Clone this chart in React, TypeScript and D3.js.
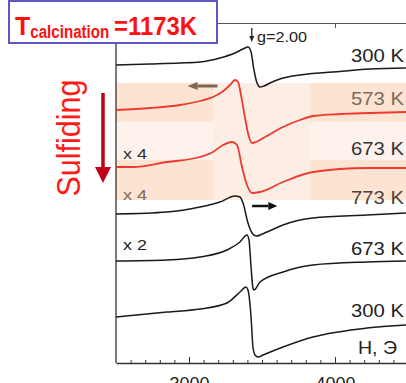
import { useEffect, useRef } from "react";
import * as d3 from "d3";

// EPR spectra: [H (Oe), signal (arb. units, stacked)]
const spec300top: [number, number][] = [
  [2500, 298], [2733, 299], [2938, 300], [3075, 301], [3212, 305], [3315, 310],
  [3370, 314], [3404, 316], [3425, 311], [3445, 293], [3466, 280], [3486, 276],
  [3514, 277], [3555, 280], [3623, 284], [3760, 288], [3986, 291], [4240, 294], [4486, 295],
];
const spec573: [number, number][] = [
  [2500, 253], [2733, 255], [2938, 258], [3075, 262], [3164, 266], [3226, 271],
  [3281, 278], [3315, 283], [3336, 281], [3356, 268], [3384, 245], [3411, 226],
  [3432, 220], [3459, 221], [3521, 226], [3644, 236], [3760, 243], [3849, 247],
  [4034, 249], [4240, 250], [4486, 251],
];
const spec673red: [number, number][] = [
  [2500, 196], [2616, 196], [2849, 201], [3075, 206], [3164, 211], [3233, 218],
  [3295, 221], [3329, 218], [3363, 196], [3397, 178], [3432, 170], [3486, 171],
  [3644, 181], [3849, 191], [4219, 195], [4486, 195],
];
const spec773: [number, number][] = [
  [2500, 149], [2849, 151], [3075, 156], [3212, 161], [3315, 167], [3349, 166],
  [3370, 160], [3404, 140], [3432, 130], [3459, 127], [3534, 131], [3644, 138],
  [3849, 145], [4219, 148], [4486, 150],
];
const spec673: [number, number][] = [
  [2500, 102], [2849, 103], [3075, 106], [3260, 113], [3349, 121], [3397, 128],
  [3411, 123], [3425, 96], [3438, 75], [3445, 73], [3486, 81], [3644, 91],
  [3849, 98], [4219, 101], [4486, 102],
];
const spec300: [number, number][] = [
  [2500, 46], [2849, 51], [3075, 54], [3260, 60], [3349, 71], [3390, 76],
  [3404, 73], [3425, 46], [3438, 16], [3452, 8], [3473, 6], [3507, 8],
  [3644, 16], [3849, 26], [4219, 35], [4486, 38],
];

const spectra = [
  { data: spec300top, red: false },
  { data: spec573, red: true },
  { data: spec673red, red: true },
  { data: spec773, red: false },
  { data: spec673, red: false },
  { data: spec300, red: false },
];

const tempLabels = [
  { text: "300 K", v: 301, c: "#222" },
  { text: "573 K", v: 258, c: "#7b6a60" },
  { text: "673 K", v: 208, c: "#333" },
  { text: "773 K", v: 159, c: "#4e4038" },
  { text: "673 K", v: 108, c: "#222" },
  { text: "300 K", v: 46, c: "#222" },
];
const gainLabels = [
  { text: "x 4", v: 204, c: "#333" },
  { text: "x 4", v: 163, c: "#7b6a5e" },
  { text: "x 2", v: 113, c: "#222" },
];

const bandRows = [
  { top: 280, bottom: 241, dark: true },
  { top: 241, bottom: 203, dark: false },
  { top: 203, bottom: 163, dark: true },
];
const bandCols = [
  { from: 2500, to: 3165, side: true },
  { from: 3165, to: 3830, side: false },
  { from: 3830, to: 4500, side: true },
];

const majorTicks = [3000, 4000];
const minorTicks = d3.range(2600, 4500, 100);

const W = 406;
const H = 383;

const App = () => {
  const svgRef = useRef<SVGSVGElement>(null);

  useEffect(() => {
    const svg = d3.select(svgRef.current);
    svg.selectAll("*").remove();

    const x = d3.scaleLinear().domain([2500, 4500]).range([116, 408]);
    const y = d3.scaleLinear().domain([0, 340]).range([363, 23]);
    const font = "Arial, 'Liberation Sans', sans-serif";

    // shaded bands
    bandRows.forEach((r) => {
      bandCols.forEach((c) => {
        svg
          .append("rect")
          .attr("x", x(c.from))
          .attr("y", y(r.top))
          .attr("width", x(c.to) - x(c.from))
          .attr("height", y(r.bottom) - y(r.top))
          .attr("fill", c.side ? (r.dark ? "#fde3d1" : "#fef3ec") : "#fdeee5");
      });
    });

    // axes
    const gAx = svg.append("g").attr("font-family", font);
    gAx.append("line").attr("x1", 116).attr("x2", 116).attr("y1", 23).attr("y2", 363)
      .attr("stroke", "#333").attr("stroke-width", 1.3);

    const bottom = gAx.append("g").attr("transform", "translate(0,363)");
    bottom.call(d3.axisBottom(x).tickValues(minorTicks).tickSize(-3).tickSizeOuter(0).tickFormat(() => ""));
    bottom.call((g) => g.select(".domain").remove());
    const bottomMajor = gAx.append("g").attr("transform", "translate(0,363)");
    bottomMajor.call(
      d3.axisBottom(x).tickValues(majorTicks).tickSizeInner(-6).tickSizeOuter(0).tickPadding(14).tickFormat(d3.format("d"))
    );
    gAx.selectAll(".domain").attr("stroke", "#333").attr("stroke-width", 1.3);
    gAx.selectAll(".tick line").attr("stroke", "#333").attr("stroke-width", 1);
    bottomMajor.selectAll(".tick text").attr("font-size", 18).attr("fill", "#222").attr("font-family", font);

    const top = gAx.append("g").attr("transform", "translate(0,23)");
    top.call(d3.axisTop(x).tickValues(majorTicks).tickSizeInner(-5).tickSizeOuter(0).tickFormat(() => ""));
    top.select(".domain").attr("stroke", "#555").attr("stroke-width", 1.2);
    top.selectAll(".tick line").attr("stroke", "#555");

    // spectra
    const line = d3
      .line<[number, number]>()
      .x((d) => x(d[0]))
      .y((d) => y(d[1]))
      .curve(d3.curveMonotoneX);

    svg
      .selectAll(".spec")
      .data(spectra)
      .join("path")
      .attr("class", "spec")
      .attr("d", (d) => line(d.data))
      .attr("fill", "none")
      .attr("stroke", (d) => (d.red ? "#ee3a2e" : "#1a1a1a"))
      .attr("stroke-width", (d) => (d.red ? 1.8 : 1.5));

    // labels
    tempLabels.forEach((l) => {
      svg.append("text").attr("x", 404).attr("y", y(l.v)).attr("text-anchor", "end")
        .attr("font-family", font).attr("font-size", 18).attr("fill", l.c)
        .attr("textLength", 53).attr("lengthAdjust", "spacingAndGlyphs").text(l.text);
    });
    gainLabels.forEach((l) => {
      svg.append("text").attr("x", 123).attr("y", y(l.v))
        .attr("font-family", font).attr("font-size", 15).attr("fill", l.c)
        .attr("textLength", 24).attr("lengthAdjust", "spacingAndGlyphs").text(l.text);
    });
    svg.append("text").attr("x", 397).attr("y", 354).attr("text-anchor", "end")
      .attr("font-family", font).attr("font-size", 18).attr("fill", "#222")
      .attr("textLength", 39).attr("lengthAdjust", "spacingAndGlyphs").text("H, Э");

    // arrows
    const arrow = (x1: number, y1: number, x2: number, y2: number, color: string, w: number, hl: number, hw: number) => {
      const ang = Math.atan2(y2 - y1, x2 - x1);
      const bx = x2 - hl * Math.cos(ang);
      const by = y2 - hl * Math.sin(ang);
      svg.append("line").attr("x1", x1).attr("y1", y1).attr("x2", bx).attr("y2", by)
        .attr("stroke", color).attr("stroke-width", w);
      const px = -Math.sin(ang) * hw;
      const py = Math.cos(ang) * hw;
      svg.append("path")
        .attr("d", `M${x2},${y2}L${bx + px},${by + py}L${bx - px},${by - py}Z`)
        .attr("fill", color);
    };
    arrow(x(3195), 86, x(2990), 86, "#7d6650", 3, 10, 4);
    arrow(x(3432), 206, x(3605), 206, "#111", 2.5, 9, 4);
    arrow(x(3430), 28, x(3430), 42, "#222", 1.3, 6, 2.5);
    svg.append("text").attr("x", 257).attr("y", 42).attr("font-family", font)
      .attr("font-size", 14).attr("fill", "#222")
      .attr("textLength", 50).attr("lengthAdjust", "spacingAndGlyphs").text("g=2.00");

    // sulfiding
    arrow(103, 93, 103, 183, "#c00018", 3.5, 16, 8);
    svg.append("text")
      .attr("transform", "translate(80,138) rotate(-90)")
      .attr("text-anchor", "middle")
      .attr("font-family", font).attr("font-size", 33).attr("fill", "#ff1a1a")
      .attr("textLength", 117).attr("lengthAdjust", "spacingAndGlyphs")
      .text("Sulfiding");

    // title box
    svg.append("rect").attr("x", 9).attr("y", 1).attr("width", 208).attr("height", 42)
      .attr("fill", "#fff").attr("stroke", "#5b57c4").attr("stroke-width", 2);
    const title = svg.append("text").attr("x", 15).attr("y", 35)
      .attr("font-family", font).attr("font-weight", "bold").attr("fill", "#ff1010")
      .attr("font-size", 25);
    title.append("tspan").text("T");
    title.append("tspan").attr("font-size", 18).attr("dy", 3)
      .attr("textLength", 79).attr("lengthAdjust", "spacingAndGlyphs").text("calcination");
    title.append("tspan").attr("dy", -3).attr("x", 114)
      .attr("textLength", 83).attr("lengthAdjust", "spacingAndGlyphs").text("=1173K");
  }, []);

  return (
    <svg
      ref={svgRef}
      width={W}
      height={H}
      style={{ position: "absolute", left: 0, top: 0, background: "#fff" }}
    />
  );
};

export default App;
